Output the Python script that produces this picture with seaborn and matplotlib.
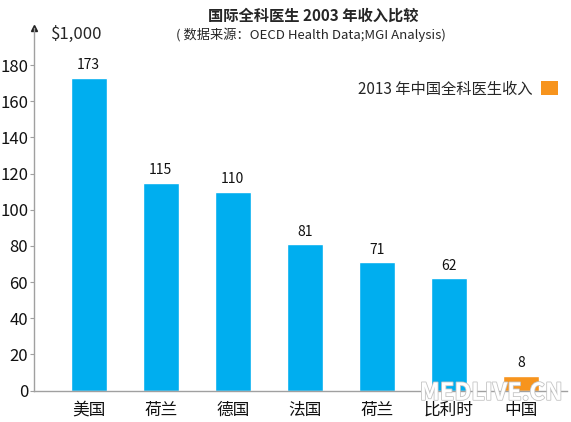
import matplotlib
matplotlib.use("Agg")
import matplotlib.pyplot as plt
import matplotlib.patheffects as path_effects
from matplotlib.patches import Patch
import seaborn as sns

# data
countries = ["美国", "荷兰", "德国", "法国", "荷兰", "比利时", "中国"]
income = [173, 115, 110, 81, 71, 62, 8]
bar_colors = ["#00AEEF"] * 6 + ["#F7941D"]

title = "国际全科医生 2003 年收入比较"
subtitle = "( 数据来源：OECD Health Data;MGI Analysis)"
unit_label = "$1,000"
legend_label = "2013 年中国全科医生收入"
y_ticks = [0, 20, 40, 60, 80, 100, 120, 140, 160, 180]

sns.set_theme(style="white")
plt.rcParams["font.family"] = ["Noto Sans CJK SC", "DejaVu Sans"]

fig = plt.figure(figsize=(5.71, 4.22), dpi=100)
ax = fig.add_axes([0.0604, 0.0746, 0.9326, 0.859])

positions = list(range(len(countries)))
sns.barplot(
    x=positions, y=income, hue=positions, palette=bar_colors,
    legend=False, width=0.5, saturation=1, ax=ax,
)

for cont, v in zip(ax.containers, income):
    ax.bar_label(cont, labels=[str(v)], padding=4, fontsize=10, color="#111111")

ax.set_xlim(-0.752, 6.64)
ax.set_ylim(0, 200.5)
ax.set_yticks(y_ticks)
ax.set_xticks(positions)
ax.set_xticklabels(countries, fontsize=12)
ax.tick_params(axis="x", length=0, pad=8, labelcolor="#111111")
ax.tick_params(axis="y", length=3, width=0.8, color="#A0A0A0", direction="out",
               pad=1.5, labelsize=12, labelcolor="#111111", left=True)

for side in ["top", "right"]:
    ax.spines[side].set_visible(False)
for side in ["left", "bottom"]:
    ax.spines[side].set_color("#A0A0A0")
    ax.spines[side].set_linewidth(1.0)

# arrow at top of y axis
ax.plot([0], [1], marker="^", markersize=5, color="#222222",
        transform=ax.transAxes, clip_on=False)

fig.text(0.548, 0.964, title, ha="center", va="center", fontsize=11, fontweight="bold")
fig.text(0.545, 0.918, subtitle, ha="center", va="center", fontsize=9.5)
fig.text(0.089, 0.919, unit_label, ha="left", va="center", fontsize=12)

handle = Patch(facecolor="#F7941D", edgecolor="none")
ax.legend([handle], [legend_label], loc="center right", markerfirst=False,
          frameon=False, fontsize=11, handlelength=1.1, handleheight=1.0,
          handletextpad=0.6, bbox_to_anchor=(0.988, 1 - 89 / 422),
          bbox_transform=fig.transFigure, borderaxespad=0)

# site watermark
wm = fig.text(0.735, 0.069, "MEDLIVE.CN", fontsize=17, color="white",
              ha="left", va="center", fontweight="bold", zorder=0)
wm.set_path_effects([path_effects.Stroke(linewidth=1.2, foreground="#C4C4C4"),
                     path_effects.Normal()])

fig.savefig("out.png", dpi=100)
